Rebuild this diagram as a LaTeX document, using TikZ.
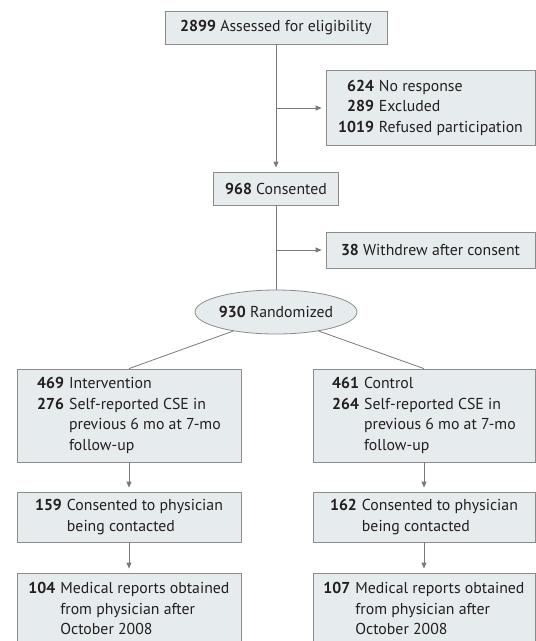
\documentclass[tikz,border=0pt]{standalone}
\usepackage{fontspec}
\setmainfont{PT Sans}
\usetikzlibrary{arrows.meta,shapes.geometric}
\definecolor{boxfill}{HTML}{E6EBEE}
\definecolor{boxline}{HTML}{8C8C8C}
\definecolor{connc}{HTML}{7A7A7A}
\definecolor{txt}{HTML}{231F20}
\newcommand{\rows}[1]{\begin{tabular}{@{}r@{\hspace{5pt}}l@{}}#1\end{tabular}}
\begin{document}
\begin{tikzpicture}[x=1pt,y=-1pt,
  box/.style={draw=boxline,fill=boxfill,line width=0.8pt,inner sep=0pt,text=txt,font=\fontsize{15.8}{20.6}\selectfont},
  conn/.style={draw=connc,line width=0.8pt},
  arr/.style={conn,-{Triangle[width=5pt,length=6pt]},shorten >=4pt}]
\clip (0,0) rectangle (536,641);
\fill[white] (0,0) rectangle (536,641);
\node[box,minimum width=222pt,minimum height=33pt] (elig) at (276,27.5) {\textbf{2899} Assessed for eligibility};
\node[box,minimum width=209pt,minimum height=75pt] (excl) at (430.5,107.5) {\rows{\textbf{624}&No response\\\textbf{289}&Excluded\\\textbf{1019}&Refused participation}};
\node[box,minimum width=125pt,minimum height=33pt] (cons) at (276,188.5) {\textbf{968} Consented};
\node[box,minimum width=209pt,minimum height=36pt] (wd) at (430.5,250) {\textbf{38} Withdrew after consent};
\node[box,ellipse,minimum width=162pt,minimum height=44pt] (rand) at (276,312) {\textbf{930} Randomized};
\node[box,minimum width=224pt,minimum height=93pt] (int) at (129,415.5) {\rows{\textbf{469}&Intervention\\\textbf{276}&Self-reported CSE in\\&previous 6 mo at 7-mo\\&follow-up}};
\node[box,minimum width=222pt,minimum height=93pt] (ctl) at (424,415.5) {\rows{\textbf{461}&Control\\\textbf{264}&Self-reported CSE in\\&previous 6 mo at 7-mo\\&follow-up}};
\node[box,minimum width=224pt,minimum height=50pt] (ic) at (129,517) {\rows{\textbf{159}&Consented to physician\\&being contacted}};
\node[box,minimum width=222pt,minimum height=50pt] (cc) at (424,517) {\rows{\textbf{162}&Consented to physician\\&being contacted}};
\node[box,minimum width=224pt,minimum height=74pt] (im) at (129,610) {\rows{\textbf{104}&Medical reports obtained\\&from physician after\\&October 2008}};
\node[box,minimum width=222pt,minimum height=74pt] (cm) at (424,610) {\rows{\textbf{107}&Medical reports obtained\\&from physician after\\&October 2008}};
\coordinate (b1) at (276,108);
\coordinate (b2) at (276,250);
\draw[arr] (elig.south) -- (cons.north);
\draw[arr] (b1) -- (b1 -| excl.west);
\draw[conn] (cons.south) -- (rand.north);
\draw[arr] (b2) -- (b2 -| wd.west);
\draw[conn] (rand.204) -- (int.north);
\draw[conn] (rand.336) -- (ctl.north);
\draw[arr] (int.south) -- (ic.north);
\draw[arr] (ctl.south) -- (cc.north);
\draw[arr] (ic.south) -- (im.north);
\draw[arr] (cc.south) -- (cm.north);
\end{tikzpicture}
\end{document}
